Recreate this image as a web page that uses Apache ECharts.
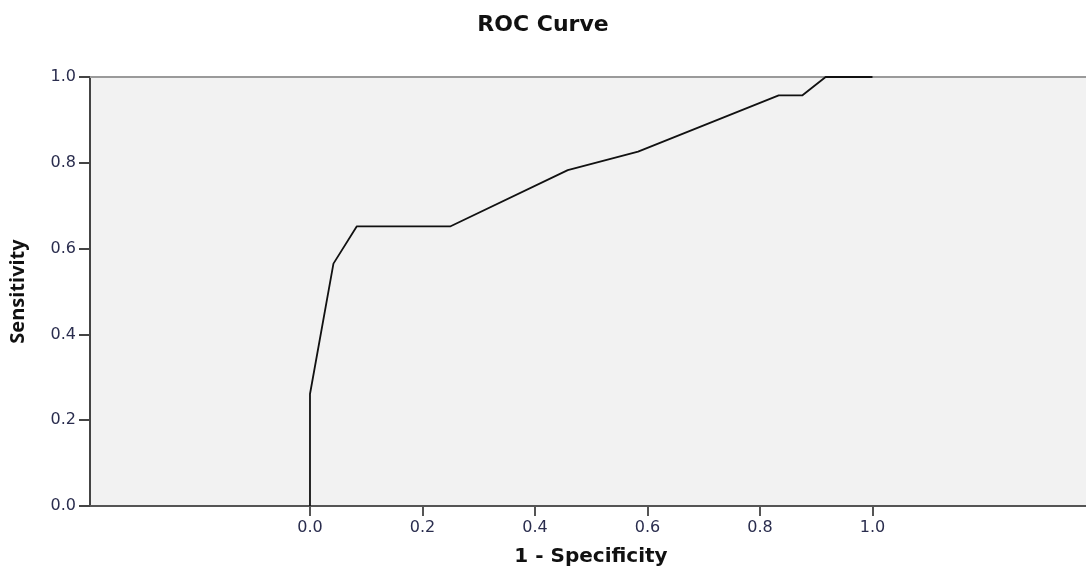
<!DOCTYPE html>
<html>
<head>
<meta charset="utf-8">
<script src="https://cdn.jsdelivr.net/npm/echarts@6/dist/echarts.min.js"></script>
<style>html,body{margin:0;padding:0;background:#fff}#c{width:1086px;height:572px}</style>
</head>
<body>
<div id="c"></div>
<script>
const fpr =         [0, 0,     0.0417, 0.0833, 0.25,  0.4583, 0.5833, 0.8333, 0.875, 0.9167, 1.0];
const sensitivity = [0, 0.261, 0.565,  0.652,  0.652, 0.783,  0.826,  0.957,  0.957, 1.0,    1.0];
const tickValues = [0, 0.2, 0.4, 0.6, 0.8, 1.0];
const titleText = 'ROC Curve';
const xName = '1 - Specificity';
const yName = 'Sensitivity';

const chart = echarts.init(document.getElementById('c'), null, {renderer: 'canvas'});
const labelStyle = {fontFamily: 'DejaVu Sans', fontSize: 16, color: '#2a2d4e'};
chart.setOption({
  animation: false,
  backgroundColor: '#fff',
  title: {
    text: titleText, left: 'center', top: 9,
    textStyle: {fontFamily: 'DejaVu Sans', fontWeight: 'bold', fontSize: 22, color: '#111'}
  },
  grid: {left: 90, right: 0, top: 77, bottom: 66, show: true, backgroundColor: '#f2f2f2', borderWidth: 0, containLabel: false, outerBoundsMode: 'none'},
  xAxis: [{
    type: 'value', min: -0.3911, max: 1.3796, position: 'bottom',
    name: xName, nameLocation: 'middle', nameGap: 41,
    nameTextStyle: {fontFamily: 'DejaVu Sans', fontWeight: 'bold', fontSize: 20, color: '#111', padding: [0, 0, 0, 6]},
    axisLine: {onZero: false, lineStyle: {color: '#555', width: 2}},
    axisTick: {show: true, customValues: tickValues, length: 10, lineStyle: {color: '#555', width: 2}},
    axisLabel: Object.assign({customValues: tickValues, margin: 14, formatter: v => v.toFixed(1)}, labelStyle),
    splitLine: {show: false}
  }, {
    type: 'value', min: -0.3911, max: 1.3796, position: 'top',
    axisLine: {show: true, onZero: false, lineStyle: {color: '#9a9a9a', width: 2}},
    axisTick: {show: false}, axisLabel: {show: false}, splitLine: {show: false}
  }],
  yAxis: {
    type: 'value', min: 0, max: 1, interval: 0.2,
    name: yName, nameLocation: 'middle', nameGap: 62,
    nameTextStyle: {fontFamily: 'Open Sans', fontWeight: 'bold', fontSize: 20, color: '#111'},
    axisLine: {show: true, onZero: false, lineStyle: {color: '#444', width: 2}},
    axisTick: {show: true, length: 11, lineStyle: {color: '#444', width: 2}},
    axisLabel: Object.assign({margin: 14, formatter: v => v.toFixed(1)}, labelStyle),
    splitLine: {show: false}
  },
  series: [{
    type: 'line',
    data: fpr.map((x, i) => [x, sensitivity[i]]),
    showSymbol: false,
    lineStyle: {color: '#111', width: 1.8},
    z: 5
  }]
});
</script>
</body>
</html>
